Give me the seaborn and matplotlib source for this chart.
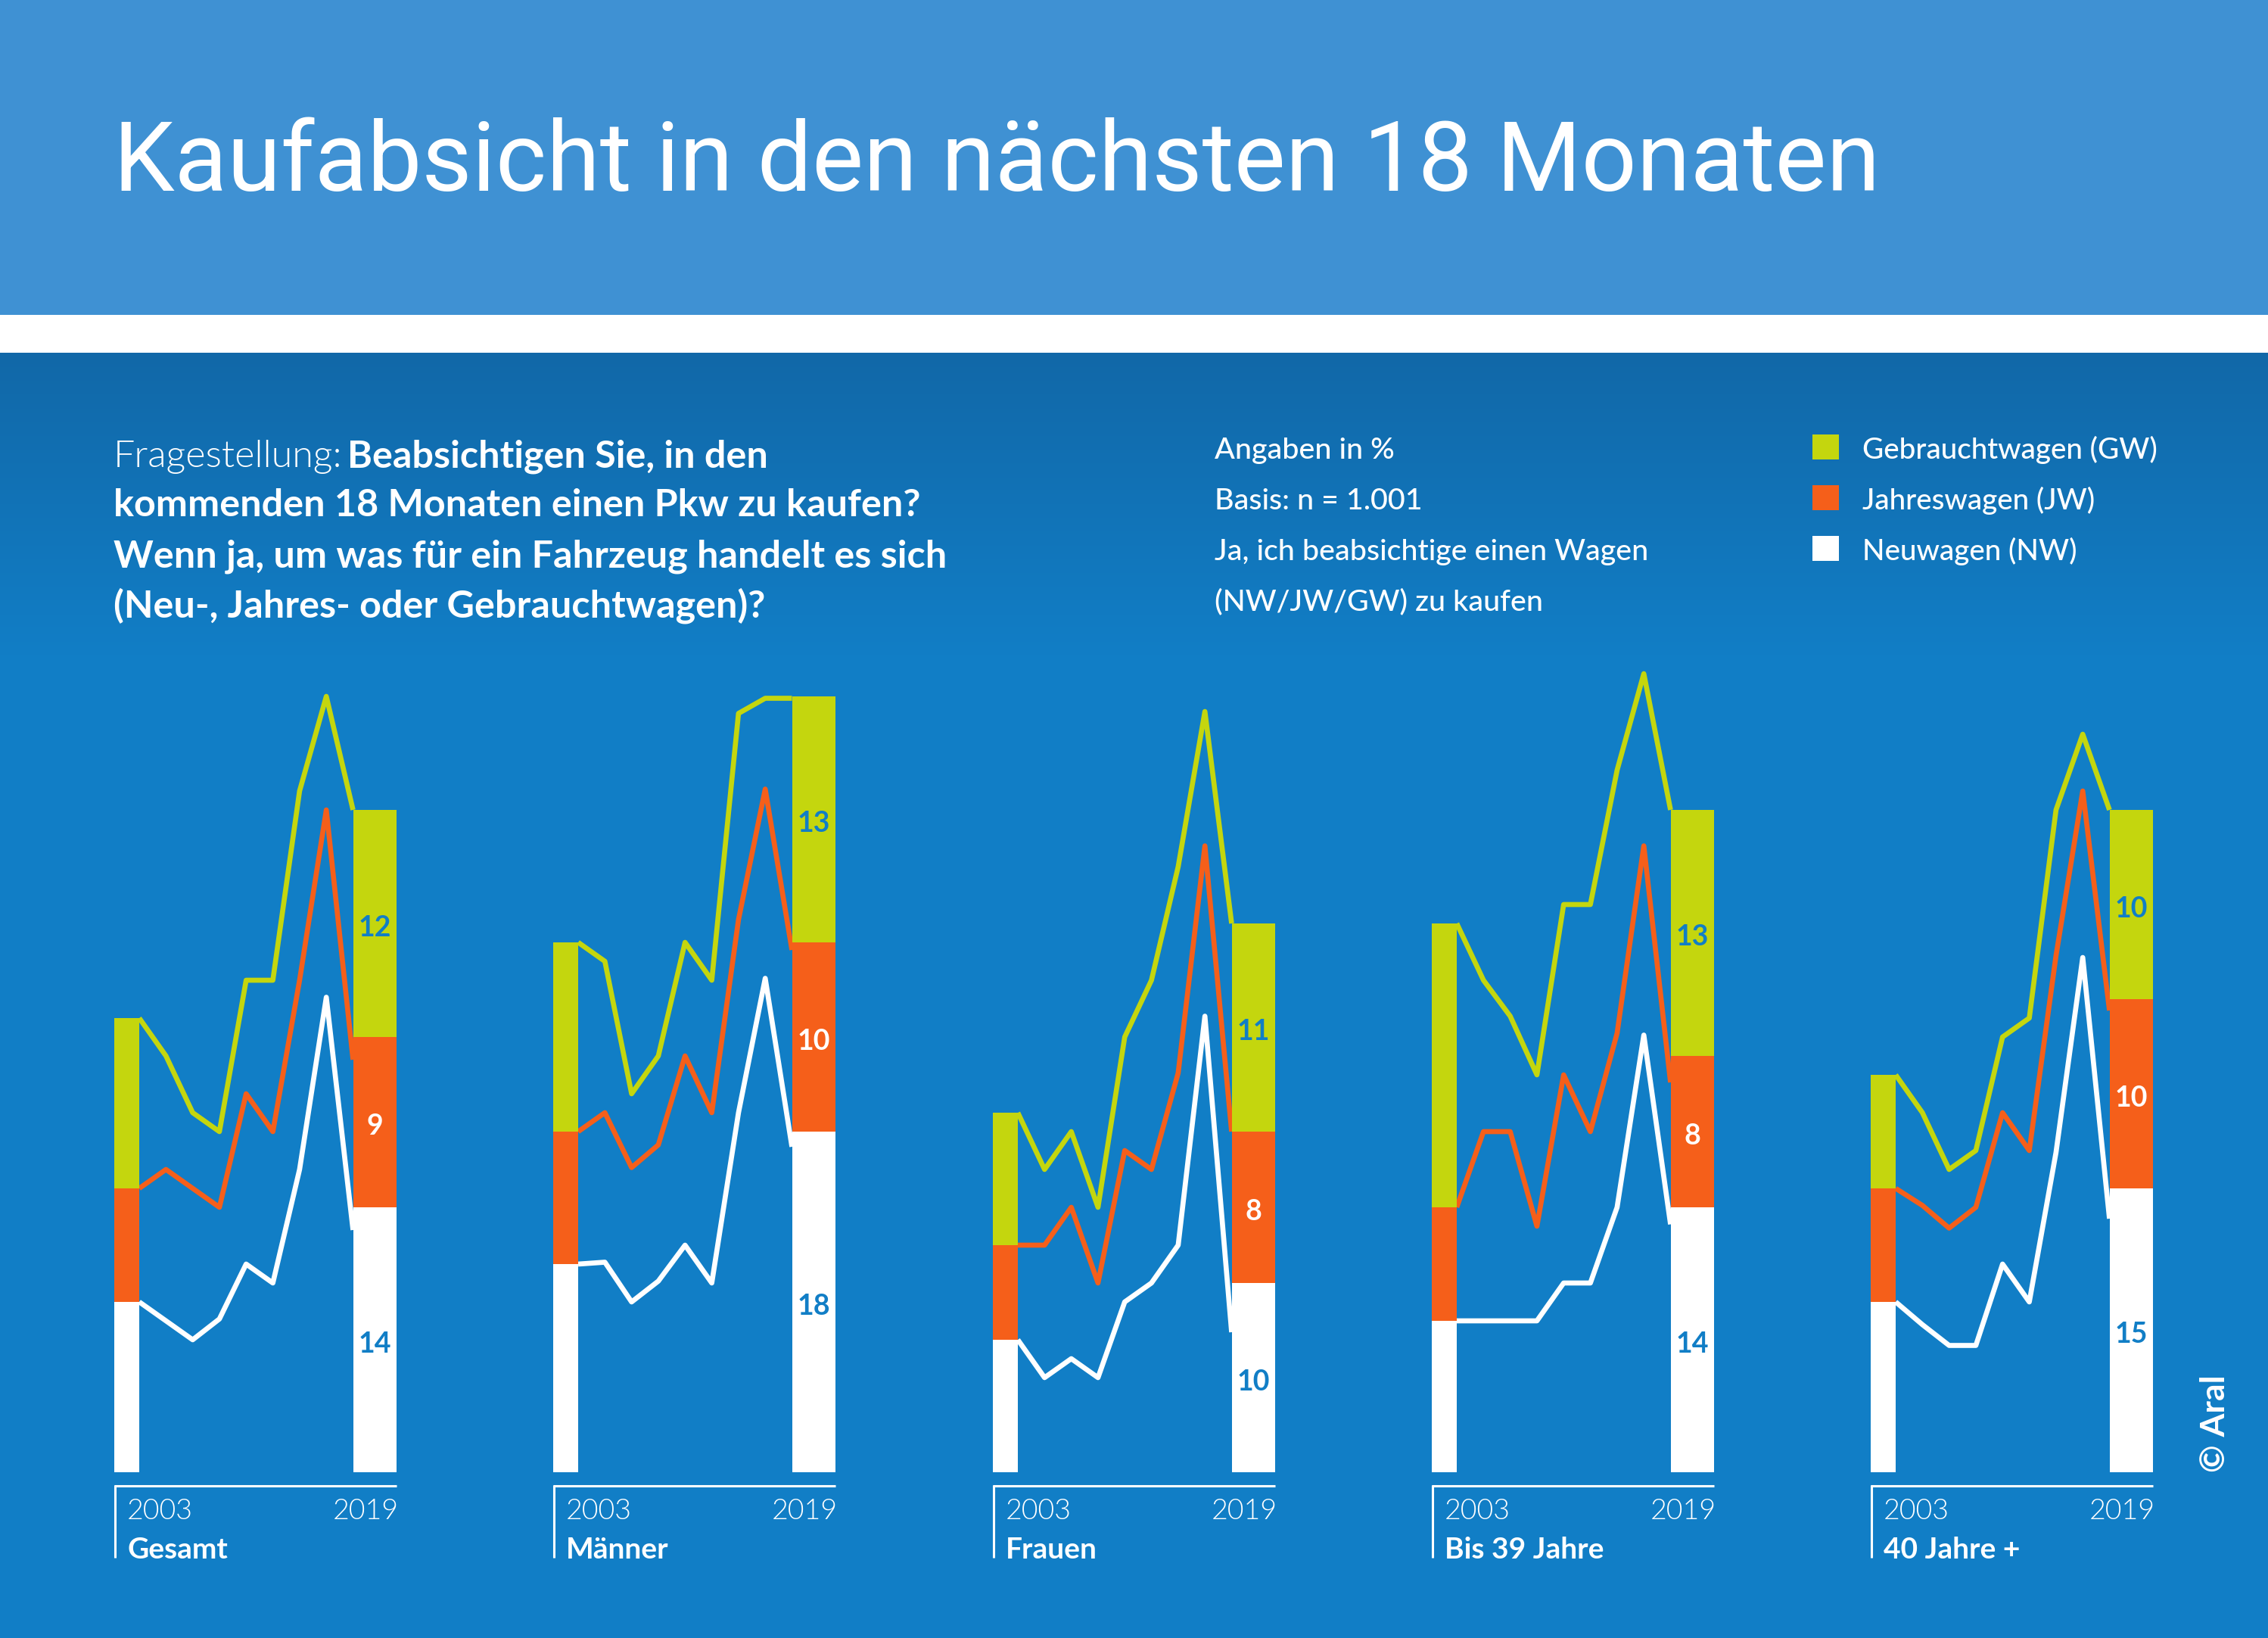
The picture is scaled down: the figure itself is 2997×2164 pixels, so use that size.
import numpy as np
import pandas as pd
import seaborn as sns
import matplotlib
matplotlib.use("Agg")
import matplotlib.pyplot as plt
from matplotlib import font_manager as fm
from matplotlib.patches import Rectangle
from matplotlib.colors import LinearSegmentedColormap

# ---------- data (percent, stacked heights) ----------
years = [2003, 2005, 2007, 2009, 2011, 2013, 2015, 2017, 2019]
panel_names = ["Gesamt", "Männer", "Frauen", "Bis 39 Jahre", "40 Jahre +"]

gesamt_nw = [9, 8, 7, 8.1, 11, 10, 16, 25.1, 12.8]
gesamt_jw = [15, 16, 15, 14, 20, 18, 26, 35, 21.8]
gesamt_gw = [24, 22, 19, 18, 26, 26, 36, 41, 35]
maenner_nw = [11, 11.1, 9, 10.1, 12, 10, 19, 26.1, 17.2]
maenner_jw = [18, 19, 16.1, 17.3, 22, 19, 29.2, 36.1, 27.6]
maenner_gw = [28, 27, 20, 22, 28, 26, 40.1, 40.9, 40.9]
frauen_nw = [7, 5, 6, 5, 9, 10, 12, 24.1, 7.4]
frauen_jw = [12, 12, 14, 10, 17, 16, 21.1, 33.1, 18]
frauen_gw = [19, 16, 18, 14, 23, 26, 32, 40.2, 29]
jung_nw = [8, 8, 8, 8, 10, 10, 14, 23.1, 13.1]
jung_jw = [14, 18, 18, 13, 21, 18, 23.2, 33.1, 20.6]
jung_gw = [29, 26, 24.1, 21, 30, 30, 37.1, 42.2, 35]
alt_nw = [9, 7.8, 6.7, 6.7, 11, 9, 16.9, 27.2, 13.4]
alt_jw = [15, 14.1, 12.9, 14, 19, 17, 27.3, 36, 24.4]
alt_gw = [21, 19, 16, 17, 23, 24, 35, 39, 35]

start_nw = [9, 11, 7, 8, 9]
start_jw = [6, 7, 5, 6, 6]
start_gw = [9, 10, 7, 15, 6]
end_nw = [14, 18, 10, 14, 15]
end_jw = [9, 10, 8, 8, 10]
end_gw = [12, 13, 11, 13, 10]

line_sets = [
    (gesamt_nw, gesamt_jw, gesamt_gw),
    (maenner_nw, maenner_jw, maenner_gw),
    (frauen_nw, frauen_jw, frauen_gw),
    (jung_nw, jung_jw, jung_gw),
    (alt_nw, alt_jw, alt_gw),
]

# ---------- style ----------
W, H = 2997, 2164
DPI = 200
GREEN, ORANGE, WHITE = "#C4D60E", "#F55F1A", "#FFFFFF"
BLUE = "#117EC6"
BLUE_TOP = "#1268A8"
HEADER = "#3F91D3"
FONT = "Lato"

sns.set_theme(style="white")
plt.rcParams["font.family"] = [FONT, "DejaVu Sans"]

light_files = [f.fname for f in fm.fontManager.ttflist
               if f.name == "Lato" and f.fname.endswith("Lato-Light.ttf")]


def light(size):
    if light_files:
        return fm.FontProperties(fname=light_files[0], size=size)
    return fm.FontProperties(family=FONT, size=size)


fig = plt.figure(figsize=(W / DPI, H / DPI), dpi=DPI)
bg = fig.add_axes([0, 0, 1, 1], zorder=0)
bg.set_xlim(0, W)
bg.set_ylim(H, 0)
bg.axis("off")

cmap = LinearSegmentedColormap.from_list("body", [BLUE_TOP, BLUE])
grad = np.clip((np.arange(466, H) - 466) / 400.0, 0, 1)[:, None]
bg.imshow(grad, extent=(0, W, H, 466), cmap=cmap, aspect="auto", vmin=0, vmax=1)
bg.set_xlim(0, W)
bg.set_ylim(H, 0)
bg.add_patch(Rectangle((0, 0), W, 416, color=HEADER, lw=0))
bg.add_patch(Rectangle((0, 416), W, 50, color="white", lw=0))


def put(x, y, s, size, weight="normal", **kw):
    return bg.text(x, y, s, fontsize=size, fontweight=weight, color="white",
                   va="baseline", ha=kw.pop("ha", "left"), **kw)


def put_light(x, y, s, size, ha="left"):
    return bg.text(x, y, s, fontproperties=light(size), color="white", va="baseline", ha=ha)


put(150, 252, "Kaufabsicht in den nächsten 18 Monaten", 46.2, family="Roboto")

Q = 18.1
put_light(150, 617, "Fragestellung:", Q)
put(459, 617, "Beabsichtigen Sie, in den", Q, "bold")
put(150, 682, "kommenden 18 Monaten einen Pkw zu kaufen?", Q, "bold")
put(150, 749, "Wenn ja, um was für ein Fahrzeug handelt es sich", Q, "bold")
put(150, 816, "(Neu-, Jahres- oder Gebrauchtwagen)?", Q, "bold")

I = 14.2
info_lines = ["Angaben in %", "Basis: n = 1.001", "Ja, ich beabsichtige einen Wagen", "(NW/JW/GW) zu kaufen"]
for yy, s in zip([606, 673, 740, 806], info_lines):
    put(1605, yy, s, I, "medium")

legend_labels = ["Gebrauchtwagen (GW)", "Jahreswagen (JW)", "Neuwagen (NW)"]
for top, c, s in zip([574, 641, 708], [GREEN, ORANGE, WHITE], legend_labels):
    bg.add_patch(Rectangle((2395, top), 35, 33, color=c, lw=0))
    put(2461, top + 32, s, 13.9, "medium")

put(2940, 1945, "© Aral", 16, "bold", rotation=90, rotation_mode="anchor")

# ---------- panels ----------
BASE = 1945
UNIT = 25.0
TOP = 880
lefts = [151, 731, 1312, 1892, 2472]
first_w, last_w = 33, 57.5
span = 282.5
px_per_year = span / (years[-1] - years[0])

for i, name in enumerate(panel_names):
    left = lefts[i]
    right = left + first_w + span + last_w
    ax = fig.add_axes([left / W, 1 - BASE / H, (right - left) / W, (BASE - TOP) / H], zorder=1)
    ax.patch.set_alpha(0)
    ax.set_xlim(years[0] - first_w / px_per_year, years[-1] + last_w / px_per_year)
    ax.set_ylim(0, (BASE - TOP) / UNIT)
    ax.axis("off")

    nw, jw, gw = line_sets[i]
    frame = pd.DataFrame({"year": years, "NW": nw, "JW": jw, "GW": gw})
    for col, c in zip(["GW", "JW", "NW"], [GREEN, ORANGE, WHITE]):
        sns.lineplot(data=frame, x="year", y=col, color=c, lw=2.4, ax=ax, zorder=2,
                     solid_joinstyle="round", solid_capstyle="butt", clip_on=False)
    ax.set_xlabel("")
    ax.set_ylabel("")

    # stacked bars at both ends
    bottom0 = bottom1 = 0
    w0 = first_w / px_per_year
    w1 = last_w / px_per_year
    for s0, s1, c, tc in zip((start_nw, start_jw, start_gw), (end_nw, end_jw, end_gw),
                             (WHITE, ORANGE, GREEN), (BLUE, "white", BLUE)):
        ax.bar(years[0] - w0, s0[i], width=w0, bottom=bottom0, align="edge", color=c, lw=0, zorder=3)
        ax.bar(years[-1], s1[i], width=w1, bottom=bottom1, align="edge", color=c, lw=0, zorder=3)
        ax.annotate(str(s1[i]), xy=(years[-1] + w1 / 2, bottom1 + s1[i] / 2), xytext=(0, -2),
                    textcoords="offset points", ha="center", va="center", color=tc,
                    fontsize=13.5, fontweight="bold", zorder=4)
        bottom0 += s0[i]
        bottom1 += s1[i]

    # bracket and captions
    bg.plot([left, right], [1963, 1963], color="white", lw=1.1, solid_capstyle="butt")
    bg.plot([left + 1, left + 1], [1962, 2058], color="white", lw=1.1, solid_capstyle="butt")
    put_light(left + 17, 2007, str(years[0]), 13.5)
    put_light(right + 3, 2007, str(years[-1]), 13.5, ha="right")
    put(left + 17, 2059, name, 14, "bold")

fig.savefig("out.png", dpi=DPI)
